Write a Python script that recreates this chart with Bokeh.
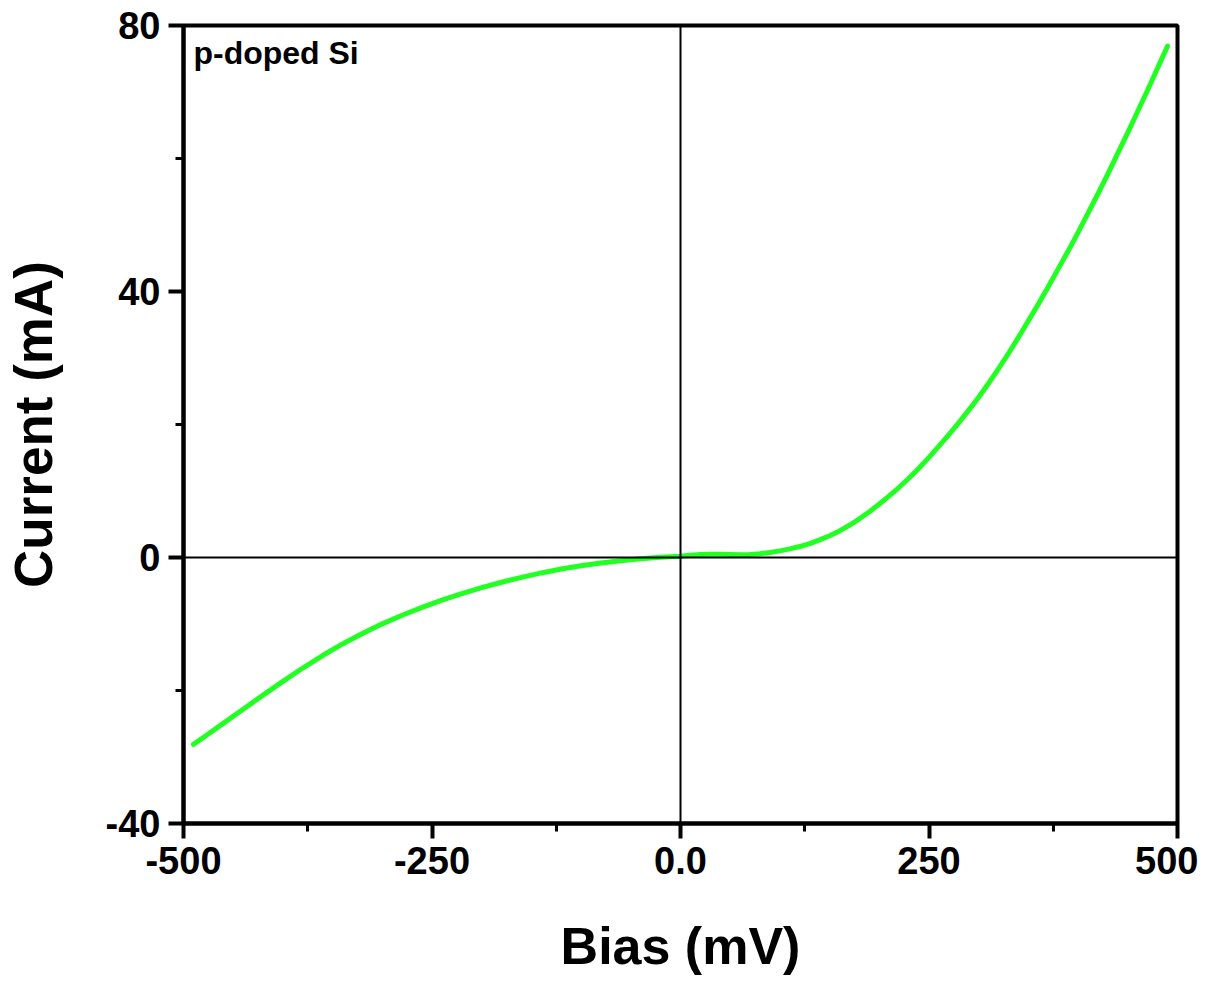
from bokeh.plotting import figure
from bokeh.models import Range1d, FixedTicker, Span, Label
from bokeh.embed import file_html
from bokeh.resources import INLINE

# Data
bias_mv = [-490, -480, -460, -440, -420, -400, -380, -360, -340, -320, -300, -280,
           -260, -240, -220, -200, -180, -160, -140, -120, -100, -80, -60, -40, -20,
           0, 10, 20, 30, 40, 50, 60, 70, 80, 90, 100, 110, 120, 130, 140, 150, 160,
           170, 180, 190, 200, 210, 220, 230, 240, 250, 260, 270, 280, 290, 300, 310,
           320, 330, 340, 350, 360, 370, 380, 390, 400, 410, 420, 430, 440, 450, 460,
           470, 480, 490]
current_ma = [-28.1, -27.06, -24.94, -22.82, -20.7, -18.62, -16.62, -14.74, -13.0,
              -11.42, -9.98, -8.68, -7.5, -6.42, -5.44, -4.54, -3.72, -2.98, -2.32,
              -1.74, -1.24, -0.82, -0.48, -0.2, 0.02,
              0.2, 0.35, 0.45, 0.5, 0.5, 0.45, 0.42, 0.45, 0.55, 0.75, 1.0, 1.3, 1.65,
              2.1, 2.65, 3.28, 4.0, 4.85, 5.82, 6.89, 8.04, 9.26, 10.56, 11.96, 13.46,
              15.06, 16.74, 18.49, 20.29, 22.16, 24.1, 26.2, 28.4, 30.7, 33.1, 35.6,
              38.1, 40.7, 43.4, 46.1, 48.9, 51.8, 54.7, 57.7, 60.8, 63.9, 67.1, 70.3,
              73.6, 76.9]

x_major = [-500, -250, 0, 250, 500]
x_major_labels = ["-500", "-250", "0.0", "250", "500"]
x_minor = [-375, -125, 125, 375]
y_major = [-40, 0, 40, 80]
y_major_labels = ["-40", "0", "40", "80"]
y_minor = [-20, 20, 60]

FONT = "Liberation Sans"

p = figure(width=1198, height=977, output_backend="svg", toolbar_location=None,
           x_range=Range1d(-500, 500), y_range=Range1d(-40, 80),
           min_border_left=183, min_border_top=25, min_border_right=21,
           min_border_bottom=154, background_fill_color="white",
           border_fill_color="white")

p.xgrid.visible = False
p.ygrid.visible = False
p.outline_line_color = "black"
p.outline_line_width = 4
p.outline_line_alpha = 1

p.xaxis.ticker = FixedTicker(ticks=x_major, minor_ticks=x_minor)
p.yaxis.ticker = FixedTicker(ticks=y_major, minor_ticks=y_minor)
p.xaxis.major_label_overrides = dict(zip(x_major, x_major_labels))
p.yaxis.major_label_overrides = dict(zip(y_major, y_major_labels))

for ax in (p.xaxis[0], p.yaxis[0]):
    ax.axis_line_width = 4
    ax.axis_line_color = "black"
    ax.major_tick_out = 15
    ax.major_tick_in = 0
    ax.minor_tick_out = 8
    ax.minor_tick_in = 0
    ax.major_tick_line_width = 4
    ax.minor_tick_line_width = 3
    ax.major_tick_line_color = "black"
    ax.minor_tick_line_color = "black"
    ax.major_label_text_font = FONT
    ax.major_label_text_font_style = "bold"
    ax.major_label_text_font_size = "38px"
    ax.major_label_text_color = "black"
    ax.major_label_standoff = 8
    ax.axis_label_text_font = FONT
    ax.axis_label_text_font_style = "bold"
    ax.axis_label_text_color = "black"

p.xaxis.axis_label = "Bias (mV)"
p.yaxis.axis_label = "Current (mA)"
p.xaxis.axis_label_text_font_size = "52px"
p.yaxis.axis_label_text_font_size = "53px"
p.xaxis.axis_label_standoff = 40
p.yaxis.axis_label_standoff = 40

p.add_layout(Span(location=0, dimension="width", line_color="black", line_width=2))
p.add_layout(Span(location=0, dimension="height", line_color="black", line_width=2))

p.line(bias_mv, current_ma, line_color="#22ff22", line_width=5, line_cap="round",
       line_join="round")

p.add_layout(Label(x=-490, y=78.6, text="p-doped Si", text_font=FONT,
                   text_font_style="bold", text_font_size="32px",
                   text_color="black", text_baseline="top", text_align="left"))

open("out.html", "w").write(file_html(p, INLINE))
